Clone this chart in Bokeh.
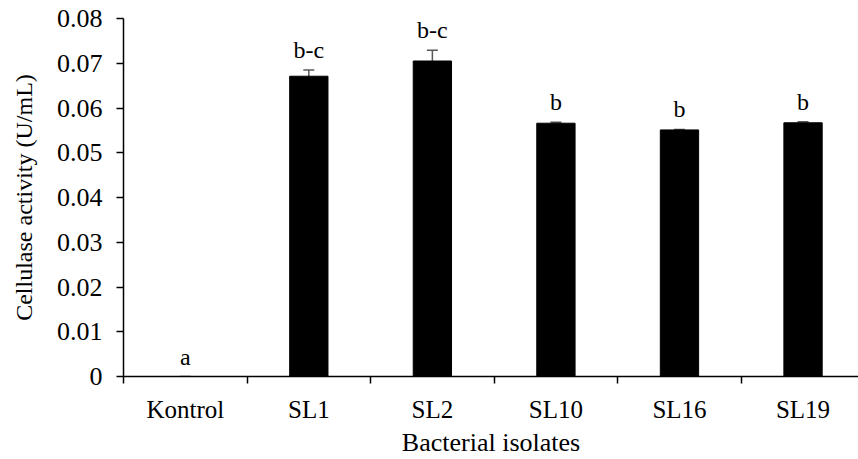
from bokeh.plotting import figure
from bokeh.models import (ColumnDataSource, Range1d, FixedTicker, Whisker, TeeHead,
                          PrintfTickFormatter, LabelSet)
from bokeh.embed import file_html
from bokeh.resources import INLINE

# ---- data ----
categories = ["Kontrol", "SL1", "SL2", "SL10", "SL16", "SL19"]
activity = [0.0, 0.0671, 0.0705, 0.0566, 0.0551, 0.0567]
errors = [0.0, 0.0014, 0.0024, 0.0002, 0.0001, 0.0002]
letters = ["a", "b-c", "b-c", "b", "b", "b"]
y_ticks = [0, 0.01, 0.02, 0.03, 0.04, 0.05, 0.06, 0.07, 0.08]

FONT = "Liberation Serif"

n = len(categories)
xs = [i + 0.5 for i in range(n)]
src = ColumnDataSource(dict(
    x=xs, top=activity,
    upper=[a + e for a, e in zip(activity, errors)],
    lab=letters,
))

p = figure(width=858, height=459, output_backend="svg", toolbar_location=None,
           x_range=Range1d(0, 5.949), y_range=Range1d(0, 0.08),
           min_border_left=123, min_border_right=0, min_border_top=18,
           min_border_bottom=82)
p.outline_line_color = None
p.grid.grid_line_color = None
p.background_fill_color = "white"
p.border_fill_color = "white"

p.vbar(x="x", top="top", width=0.31, source=src, fill_color="black",
       line_color="black")

wh = Whisker(source=src, base="x", upper="upper", lower="top",
             line_color="#595959", line_width=1.5,
             upper_head=TeeHead(size=11, line_color="#595959", line_width=1.5),
             lower_head=None)
p.add_layout(wh)

labels = LabelSet(x="x", y="upper", text="lab", source=src, y_offset=12,
                  text_align="center", text_baseline="alphabetic",
                  text_font=FONT, text_font_size="24px", text_color="black")
p.add_layout(labels)

# x axis: labels at centers, tick marks at boundaries (minor ticks)
xa = p.xaxis[0]
xa.ticker = FixedTicker(ticks=xs, minor_ticks=list(range(n + 1)))
xa.major_label_overrides = {x: c for x, c in zip(xs, categories)}
xa.major_tick_out = 0
xa.major_tick_in = 0
xa.minor_tick_out = 7
xa.minor_tick_in = 0
xa.minor_tick_line_color = "black"
xa.minor_tick_line_width = 1.5
xa.axis_line_color = "black"
xa.axis_line_width = 1.5
xa.major_label_standoff = 12
xa.major_label_text_font = FONT
xa.major_label_text_font_size = "25px"
xa.major_label_text_color = "black"
xa.axis_label = "Bacterial isolates"
xa.axis_label_text_font = FONT
xa.axis_label_text_font_size = "26px"
xa.axis_label_text_font_style = "normal"
xa.axis_label_text_color = "black"
xa.axis_label_standoff = 2

ya = p.yaxis[0]
ya.ticker = FixedTicker(ticks=y_ticks, minor_ticks=[])
ya.formatter = PrintfTickFormatter(format="%.2f")
ya.major_label_overrides = {0: "0"}
ya.major_tick_out = 7
ya.major_tick_in = 0
ya.major_tick_line_color = "black"
ya.major_tick_line_width = 1.5
ya.axis_line_color = "black"
ya.axis_line_width = 1.5
ya.major_label_standoff = 14
ya.major_label_text_font = FONT
ya.major_label_text_font_size = "26px"
ya.major_label_text_color = "black"
ya.axis_label = "Cellulase activity (U/mL)"
ya.axis_label_text_font = FONT
ya.axis_label_text_font_size = "24px"
ya.axis_label_text_font_style = "normal"
ya.axis_label_text_color = "black"
ya.axis_label_standoff = 17

open("out.html", "w").write(file_html(p, INLINE))
